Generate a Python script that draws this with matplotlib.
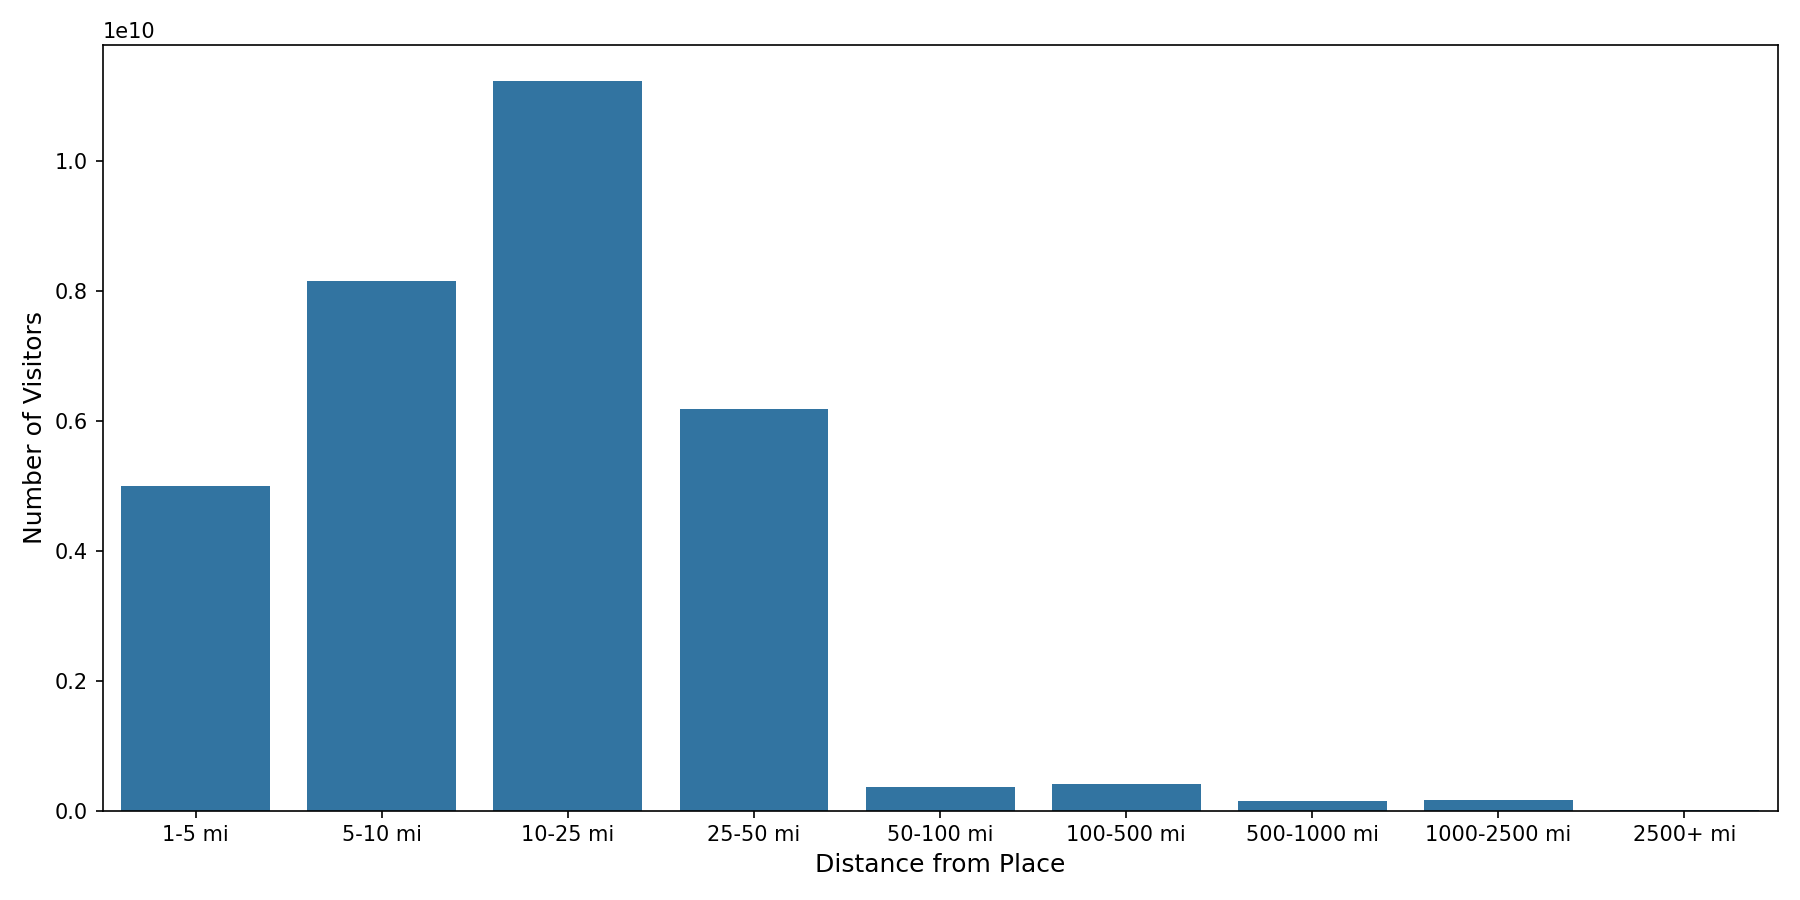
import matplotlib
matplotlib.use("Agg")
import matplotlib.pyplot as plt

distances = ["1-5 mi", "5-10 mi", "10-25 mi", "25-50 mi", "50-100 mi",
             "100-500 mi", "500-1000 mi", "1000-2500 mi", "2500+ mi"]
visitors = [5.00e9, 8.15e9, 1.123e10, 6.19e9, 3.6e8, 4.1e8, 1.4e8, 1.6e8, 5e6]

fig, ax = plt.subplots(figsize=(12, 6), dpi=150)
ax.bar(range(len(distances)), visitors, width=0.8, color="#3274a1")
ax.set_xticks(range(len(distances)))
ax.set_xticklabels(distances)
ax.set_xlim(-0.5, len(distances) - 0.5)
ax.set_xlabel("Distance from Place", fontsize=12)
ax.set_ylabel("Number of Visitors", fontsize=12)
plt.tight_layout()
plt.savefig("out.png", dpi=150)
